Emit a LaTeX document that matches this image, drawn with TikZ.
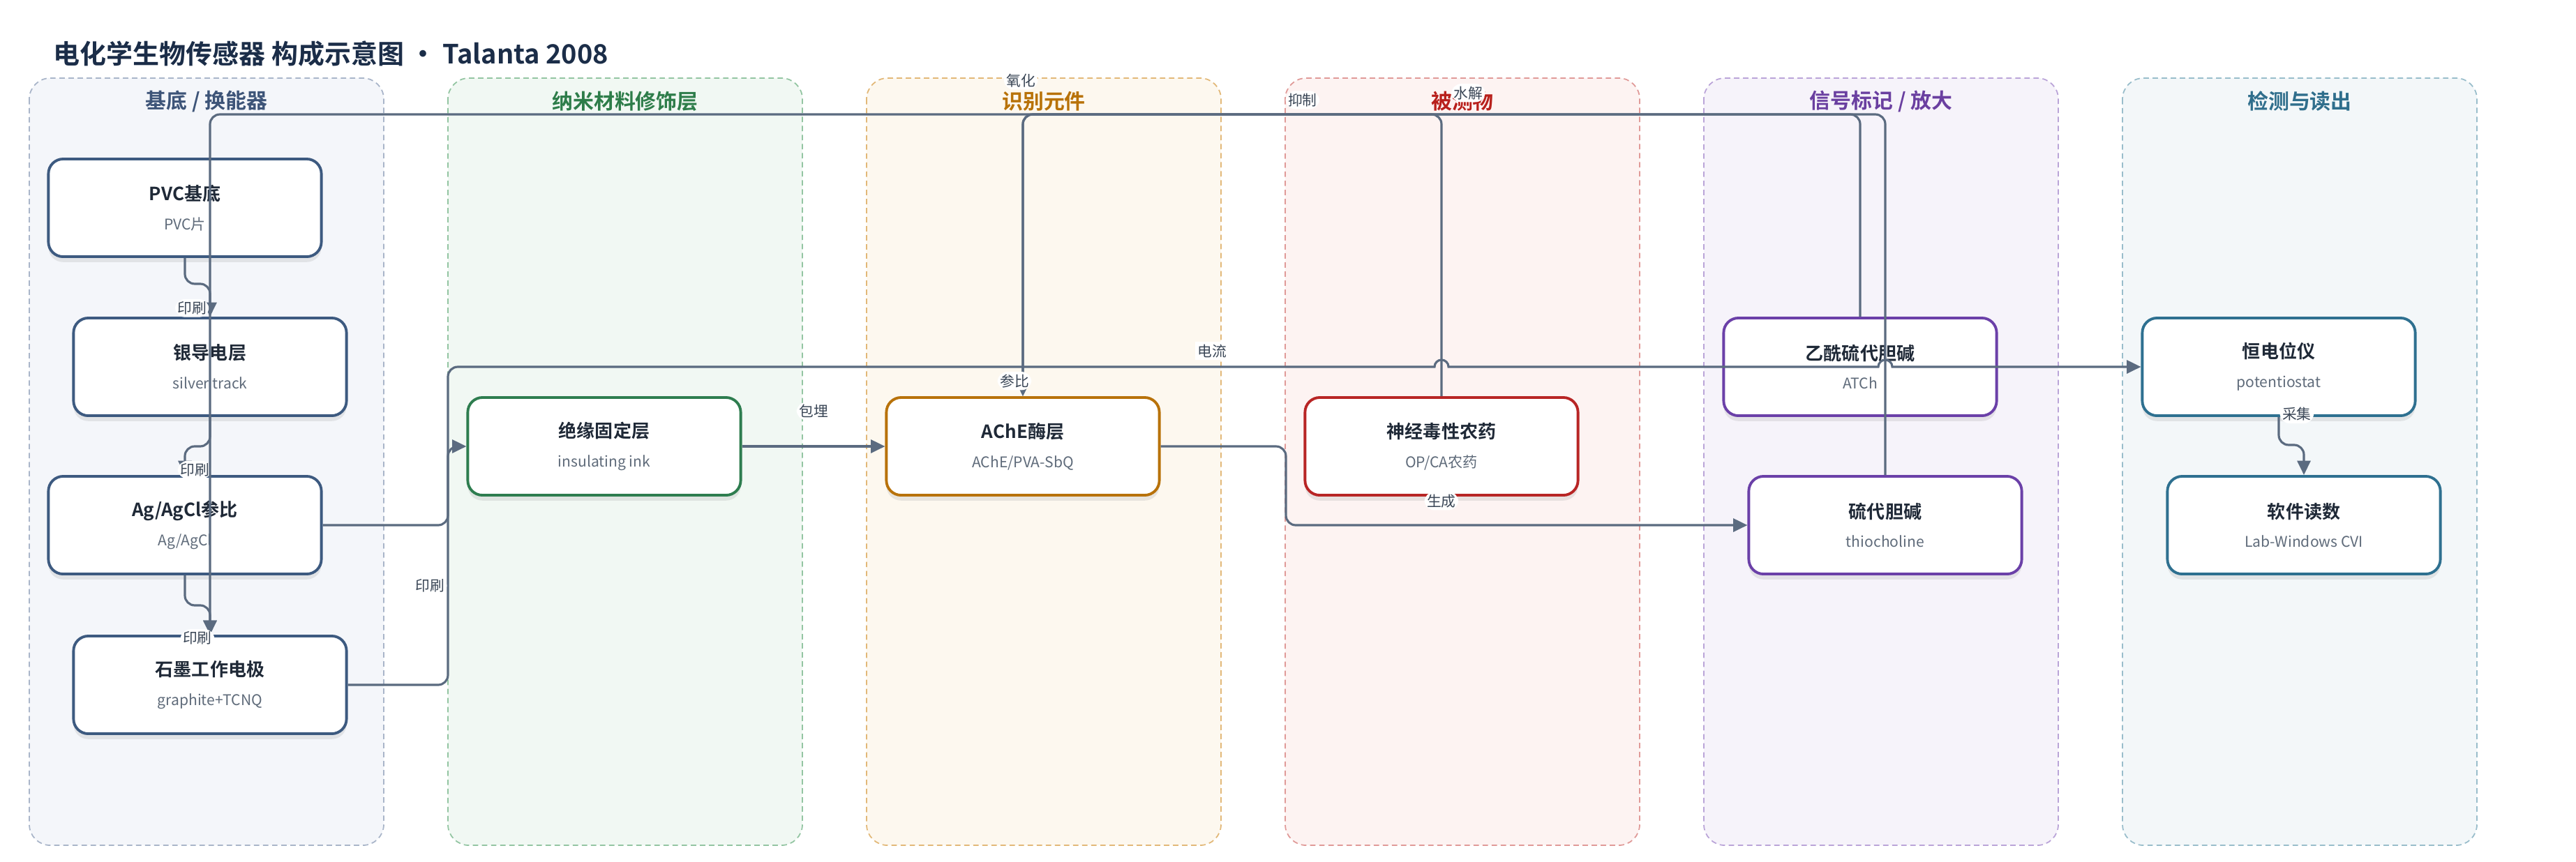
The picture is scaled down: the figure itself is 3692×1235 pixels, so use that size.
\documentclass[tikz,border=0pt]{standalone}
\usepackage{fontspec}
\setmainfont{Noto Sans CJK SC}[BoldFont={Noto Sans CJK SC Bold}]
\usetikzlibrary{arrows.meta,shadows,calc}

% lane colours: background, dashed border, heading, node border
\definecolor{bgA}{HTML}{F4F6FA}\definecolor{bdA}{HTML}{A9B5C9}\definecolor{txA}{HTML}{3D5478}\definecolor{ndA}{HTML}{3D5A80}
\definecolor{bgB}{HTML}{F1F8F3}\definecolor{bdB}{HTML}{93C5A2}\definecolor{txB}{HTML}{2E7D4A}\definecolor{ndB}{HTML}{2E7D4F}
\definecolor{bgC}{HTML}{FDF8EF}\definecolor{bdC}{HTML}{E2B878}\definecolor{txC}{HTML}{B87208}\definecolor{ndC}{HTML}{B8720A}
\definecolor{bgD}{HTML}{FDF3F2}\definecolor{bdD}{HTML}{E09A98}\definecolor{txD}{HTML}{B8201C}\definecolor{ndD}{HTML}{B82525}
\definecolor{bgE}{HTML}{F6F3FA}\definecolor{bdE}{HTML}{BAA4D8}\definecolor{txE}{HTML}{6A3FA0}\definecolor{ndE}{HTML}{6B40A8}
\definecolor{bgF}{HTML}{F3F7F9}\definecolor{bdF}{HTML}{99BDCB}\definecolor{txF}{HTML}{2F6E8C}\definecolor{ndF}{HTML}{2E7090}
\definecolor{titlec}{HTML}{1B2D48}
\definecolor{namec}{HTML}{1F2937}
\definecolor{subc}{HTML}{5F6B7A}
\definecolor{linkc}{HTML}{5B6B80}
\definecolor{lblc}{HTML}{3A4656}

\newcommand{\boxtext}[2]{{\bfseries\color{namec}#1}\\[2.4pt]{\fontsize{6}{9.5}\selectfont\color{subc}#2}}

\begin{document}
\begin{tikzpicture}[x=0.01cm, y=-0.01cm,
    lane/.style={line width=0.5pt, dash pattern=on 2.2pt off 1.5pt, rounded corners=8.5pt},
    lanetitle/.style={font=\bfseries\fontsize{8.5}{10}\selectfont},
    box/.style={draw=#1, line width=1.1pt, fill=white, rounded corners=6pt,
        minimum width=3.91cm, minimum height=1.40cm, align=center, inner sep=2pt,
        font=\fontsize{7.4}{9.5}\selectfont,
        drop shadow={shadow xshift=0pt, shadow yshift=-2.2pt, opacity=0.16}},
    link/.style={draw=linkc, line width=0.9pt, rounded corners=4pt,
        -{Triangle[length=5.8pt, width=5.4pt]}},
    lbl/.style={fill=white, inner sep=1pt, text=lblc, font=\fontsize{5.9}{7}\selectfont}]

    \useasboundingbox (0,0) rectangle (3692,1235);

    % Swim lanes with their headings
    \foreach \i/\ttl/\c in {0/{基底 / 换能器}/A, 1/纳米材料修饰层/B, 2/识别元件/C,
                            3/被测物/D, 4/{信号标记 / 放大}/E, 5/检测与读出/F} {
        \draw[lane, draw=bd\c, fill=bg\c] ({42+600*\i},112) rectangle ({550+600*\i},1212);
        \node[lanetitle, text=tx\c] (lane\c) at ({296+600*\i},145) {\ttl};
    }

    % Title
    \node[anchor=west, inner sep=0pt, text=titlec, font=\bfseries\fontsize{10.8}{13}\selectfont] (title)
        at (76,77) {电化学生物传感器 构成示意图 · Talanta 2008};

    % Components
    \node[box=ndA] (pvc) at (265,298) {\boxtext{PVC基底}{PVC片}};
    \node[box=ndA] (silver) at (301,526) {\boxtext{银导电层}{silver track}};
    \node[box=ndA] (agcl) at (265,753) {\boxtext{Ag/AgCl参比}{Ag/AgCl}};
    \node[box=ndA] (graphite) at (301,982) {\boxtext{石墨工作电极}{graphite+TCNQ}};
    \node[box=ndB] (insul) at (866,640) {\boxtext{绝缘固定层}{insulating ink}};
    \node[box=ndC] (ache) at (1466,640) {\boxtext{AChE酶层}{AChE/PVA-SbQ}};
    \node[box=ndD] (pest) at (2066,640) {\boxtext{神经毒性农药}{OP/CA农药}};
    \node[box=ndE] (atch) at (2666,526) {\boxtext{乙酰硫代胆碱}{ATCh}};
    \node[box=ndE] (thio) at (2702,753) {\boxtext{硫代胆碱}{thiocholine}};
    \node[box=ndF] (pstat) at (3266,526) {\boxtext{恒电位仪}{potentiostat}};
    \node[box=ndF] (soft) at (3302,753) {\boxtext{软件读数}{Lab-Windows CVI}};

    % Routing points
    \coordinate (bus) at (0,164);
    \coordinate (split) at (642,0);
    \coordinate (turn) at (1843,0);

    % Printed layers
    \draw[link] (pvc.south) -- ++(0,37) -| (silver.north)
        node[lbl, pos=0.87, anchor=east] {印刷};
    \draw[link] (silver.south) -- ++(0,42) -| (agcl.north)
        node[lbl, pos=0.91, xshift=0.14cm] {印刷};

    % Long routes over the top
    \draw[link] (thio.north) |- (graphite.north |- bus)
        node[lbl, pos=0.758, anchor=south, yshift=0.34cm] {氧化} -- (graphite.north);
    \draw[link] (pest.north) |- (ache.north |- bus)
        node[lbl, pos=0.666, anchor=south, yshift=0.06cm] {抑制} -- (ache.north);
    \draw[link] (atch.north) |- (ache.north |- bus)
        node[lbl, pos=0.734, anchor=south, yshift=0.16cm] {水解} -- (ache.north)
        node[lbl, pos=0.946, xshift=-0.12cm] {参比};

    \draw[link] (agcl.south) -- ++(0,43) -| (graphite.north)
        node[lbl, pos=1, xshift=-0.18cm, yshift=-0.05cm] {印刷};

    % Electrode to the insulating layer and the current line
    \draw[link] (graphite.east) -| (split |- insul.west)
        node[lbl, pos=0.708, anchor=east] {印刷} -- (insul.west);
    \draw[link] (agcl.east) -| (split |- pstat.west) -- ++(30,0) [sharp corners]
        -- ($(pest.north |- pstat.west)+(-10,0)$)
        node[lbl, pos=0.77, anchor=south, yshift=0.08cm] {电流}
        arc[start angle=180, end angle=0, radius=0.1cm]
        -- ($(thio.north |- pstat.west)+(-10,0)$)
        arc[start angle=180, end angle=0, radius=0.1cm] -- (pstat.west);

    % Enzyme chain
    \draw[link] (insul) -- (ache) node[lbl, midway, anchor=south, yshift=0.36cm] {包埋};
    \draw[link] (ache.east) -| (turn |- thio.west) -- (thio.west)
        node[lbl, pos=0.337, anchor=south, yshift=0.2cm] {生成};

    % Read-out
    \draw[link] (pstat.south) -- ++(0,40) node[lbl, pos=0, anchor=west, yshift=0.04cm] {采集}
        -| (soft.north);
\end{tikzpicture}
\end{document}
